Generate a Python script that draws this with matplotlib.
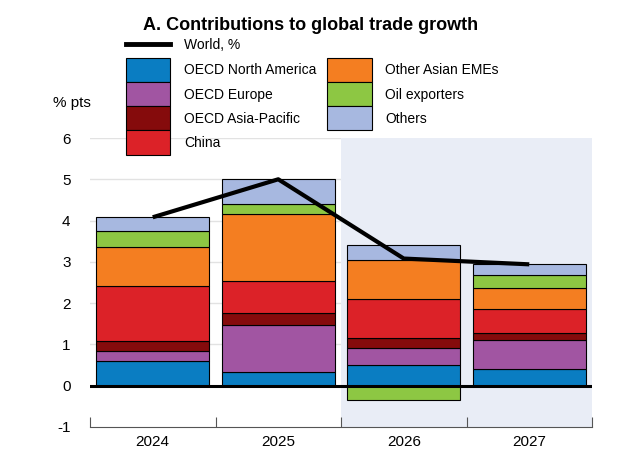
import matplotlib
matplotlib.use("Agg")
import matplotlib.pyplot as plt
import numpy as np
from matplotlib.lines import Line2D
from matplotlib.patches import Patch

plt.rcParams['font.family'] = ['Liberation Sans', 'DejaVu Sans']
plt.rcParams['axes.unicode_minus'] = False

years = ["2024", "2025", "2026", "2027"]
series_names = ["OECD North America", "OECD Europe", "OECD Asia-Pacific", "China",
                "Other Asian EMEs", "Oil exporters", "Others"]
oecd_na = [0.61, 0.33, 0.50, 0.41]
oecd_eu = [0.23, 1.14, 0.41, 0.70]
oecd_ap = [0.25, 0.28, 0.24, 0.16]
china = [1.33, 0.79, 0.95, 0.58]
other_asia = [0.94, 1.62, 0.95, 0.52]
oil = [0.38, 0.24, -0.34, 0.30]
others = [0.35, 0.60, 0.35, 0.27]
world = [4.08, 5.00, 3.08, 2.94]

colors = ["#0A7DC2", "#A155A2", "#850B0C", "#DC2228", "#F47E21", "#8DC743", "#A7B8E0"]
series = [oecd_na, oecd_eu, oecd_ap, china, other_asia, oil, others]

fig = plt.figure(figsize=(6.34, 4.71), dpi=100)
W, H = 634, 471
ax = fig.add_axes([90 / W, 1 - 427 / H, (592 - 90) / W, (427 - 138) / H])

x = np.arange(len(years))
for yv in range(1, 7):
    ax.axhline(yv, color="#E2E2E2", lw=1, zorder=1)
ax.axvspan(1.5, 3.5, color="#E9EDF6", zorder=1.5, lw=0)

pos_base = np.zeros(len(years))
neg_base = np.zeros(len(years))
handles = []
for name, vals, c in zip(series_names, series, colors):
    vals = np.array(vals)
    bottoms = np.where(vals >= 0, pos_base, neg_base)
    ax.bar(x, vals, bottom=bottoms, width=0.9, color=c, edgecolor="black", lw=0.8, zorder=2)
    pos_base = pos_base + np.where(vals >= 0, vals, 0)
    neg_base = neg_base + np.where(vals < 0, vals, 0)
    handles.append(Patch(facecolor=c, edgecolor="black", lw=0.8, label=name))

ax.axhline(0, color="black", lw=2.2, zorder=3)
ax.plot(x, world, color="black", lw=3, zorder=4, solid_capstyle="butt")

ax.set_xlim(-0.5, 3.5)
ax.set_ylim(-1, 6)
ax.set_yticks(range(-1, 7))
ax.tick_params(axis="y", length=0, pad=14, labelsize=11)
ax.set_xticks([-0.5, 0.5, 1.5, 2.5, 3.5])
ax.set_xticklabels([])
ax.set_xticks(x, minor=True)
ax.set_xticklabels(years, minor=True)
ax.tick_params(axis="x", which="major", direction="in", length=7, color="#555555")
ax.tick_params(axis="x", which="minor", length=0, labelsize=11, pad=6)
for s in ["top", "right", "left"]:
    ax.spines[s].set_visible(False)
ax.spines["bottom"].set_color("#555555")

fig.text(311 / W, 1 - 25 / H, "A. Contributions to global trade growth", ha="center", va="center",
         fontsize=13, fontweight="bold")
fig.text(53 / W, 1 - 103 / H, "% pts", ha="left", va="center", fontsize=11)

leg1 = fig.legend(handles=[Line2D([], [], color="black", lw=3.5, label="World, %")],
                  loc="upper left", bbox_to_anchor=(126 / W, 1 - 38 / H), frameon=False,
                  fontsize=10, handlelength=3.2, handletextpad=1.0, borderpad=0, borderaxespad=0)
leg2 = fig.legend(handles=handles, loc="upper left", bbox_to_anchor=(126 / W, 1 - 58 / H), ncol=2,
                  frameon=False, fontsize=10, handlelength=3.2, handleheight=2.3, labelspacing=0,
                  handletextpad=1.0, columnspacing=0.75, borderpad=0, borderaxespad=0)

fig.savefig("out.png", dpi=100)
